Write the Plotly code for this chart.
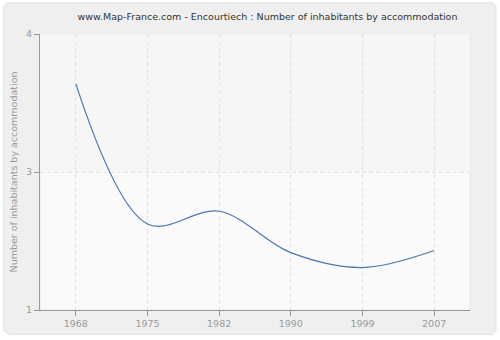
import plotly.graph_objects as go

# ---- data ----
years = ["1968", "1975", "1982", "1990", "1999", "2007"]
inhabitants_per_accommodation = [3.53, 2.21, 2.33, 1.94, 1.80, 1.96]
y_tick_values = [1.4, 2.7, 4.0]
y_tick_labels = ["1", "3", "4"]

title_text = "www.Map-France.com - Encourtiech : Number of inhabitants by accommodation"
y_title = "Number of inhabitants by accommodation"

FONT = "DejaVu Sans"

fig = go.Figure()
fig.add_trace(go.Scatter(
    x=years, y=inhabitants_per_accommodation,
    mode="lines",
    line=dict(color="#4a78b0", width=1.2, shape="spline", smoothing=1.0),
    hoverinfo="skip", showlegend=False,
))

shapes = [
    # outer rounded panel
    dict(type="path", xref="paper", yref="paper", layer="below",
         path="M -0.0705,-0.089 L 1.0535,-0.089 L 1.0605,-0.075 L 1.0605,1.10 L 1.0535,1.113 "
              "L -0.0775,1.113 L -0.0845,1.10 L -0.0845,-0.075 Z",
         fillcolor="#efefef", line=dict(color="#e2e2e2", width=1)),
    # plot area background
    dict(type="rect", xref="paper", yref="paper", x0=0, x1=1, y0=0, y1=1, layer="below",
         fillcolor="#fafafa", line=dict(color="#e6e6e6", width=1)),
    # upper hatched zone
    dict(type="rect", xref="paper", yref="y", x0=0, x1=1,
         y0=y_tick_values[1], y1=y_tick_values[2], layer="below",
         fillcolor="#f6f6f6", line=dict(width=0)),
]

fig.update_layout(
    width=500, height=340,
    margin=dict(l=40, r=30, t=34, b=30),
    paper_bgcolor="#ffffff",
    plot_bgcolor="rgba(0,0,0,0)",
    font=dict(family=FONT, size=10, color="#999999"),
    title=dict(text=title_text, x=0.535, xref="container", xanchor="center",
               y=0.95, yref="container", yanchor="middle",
               font=dict(family=FONT, size=9.5, color="#333333")),
    shapes=shapes,
    xaxis=dict(
        type="category", range=[-0.5, 5.5],
        showline=True, linecolor="#999999", linewidth=1,
        ticks="outside", ticklen=5, tickcolor="#999999",
        showgrid=True, gridcolor="#e2e2e2", griddash="4px,3px", gridwidth=1,
        tickfont=dict(family=FONT, size=9.5, color="#999999"),
        zeroline=False, fixedrange=True,
    ),
    yaxis=dict(
        range=[y_tick_values[0], y_tick_values[-1]],
        tickmode="array", tickvals=y_tick_values, ticktext=y_tick_labels,
        showline=True, linecolor="#999999", linewidth=1,
        ticks="outside", ticklen=5, tickcolor="#999999",
        showgrid=True, gridcolor="#e2e2e2", griddash="4px,3px", gridwidth=1,
        tickfont=dict(family=FONT, size=9.5, color="#999999"),
        title=dict(text=y_title, standoff=6, font=dict(family=FONT, size=9.5, color="#999999")),
        zeroline=False, fixedrange=True,
    ),
)

fig.write_html("out.html")
